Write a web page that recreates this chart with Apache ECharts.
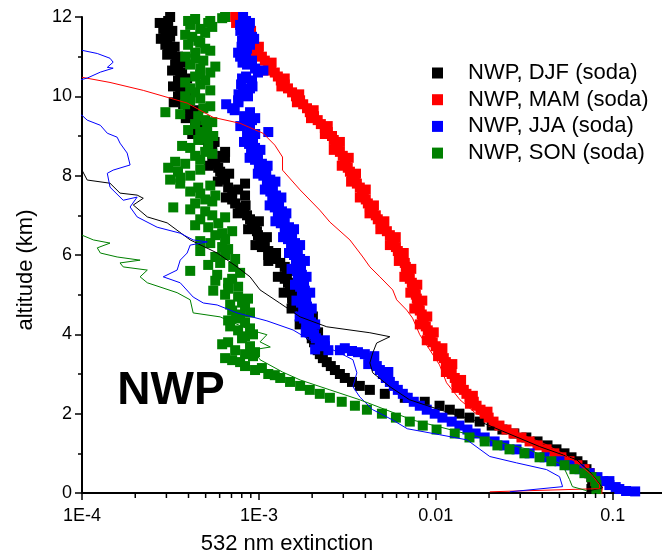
<!DOCTYPE html>
<html><head><meta charset="utf-8">
<script src="https://cdn.jsdelivr.net/npm/echarts@6/dist/echarts.min.js"></script>
<style>html,body{margin:0;padding:0;background:#fff}#c{width:662px;height:556px}</style>
</head><body><div id="c"></div>
<script>
// ---------- DATA ----------
const seriesNames = ['NWP, DJF (soda)', 'NWP, MAM (soda)', 'NWP, JJA (soda)', 'NWP, SON (soda)'];
const xTickLabels = {'-4': '1E-4', '-3': '1E-3', '-2': '0.01', '-1': '0.1'};
const xMinorTicks = [2e-4,3e-4,4e-4,5e-4,6e-4,7e-4,8e-4,9e-4,2e-3,3e-3,4e-3,5e-3,6e-3,7e-3,8e-3,9e-3,2e-2,3e-2,4e-2,5e-2,6e-2,7e-2,8e-2,9e-2];

// altitude (km) of the scatter profiles
const altitude = [0.1,0.2,0.3,0.4,0.5,0.6,0.7,0.8,0.9,1.0,1.1,1.2,1.3,1.4,1.5,1.6,1.7,1.8,1.9,2.0,
2.1,2.2,2.3,2.4,2.5,2.6,2.7,2.8,2.9,3.0,3.1,3.2,3.3,3.4,3.5,3.6,3.7,3.8,3.9,4.0,
4.1,4.2,4.3,4.4,4.5,4.6,4.7,4.8,4.9,5.0,5.1,5.2,5.3,5.4,5.5,5.6,5.7,5.8,5.9,6.0,
6.1,6.2,6.3,6.4,6.5,6.6,6.7,6.8,6.9,7.0,7.1,7.2,7.3,7.4,7.5,7.6,7.7,7.8,7.9,8.0,
8.1,8.2,8.3,8.4,8.5,8.6,8.7,8.8,8.9,9.0,9.1,9.2,9.3,9.4,9.5,9.6,9.7,9.8,9.9,10.0,
10.1,10.2,10.3,10.4,10.5,10.6,10.7,10.8,10.9,11.0,11.1,11.2,11.3,11.4,11.5,11.6,11.7,11.8,11.9,12.0];

const djfExt = [7.58e-2,7.68e-2,7.68e-2,7.58e-2,7.39e-2,7.11e-2,6.75e-2,6.32e-2,5.85e-2,5.34e-2,
4.81e-2,4.28e-2,3.76e-2,3.25e-2,2.78e-2,2.38e-2,2.07e-2,1.77e-2,1.55e-2,1.36e-2,
1.20e-2,1.05e-2,8.66e-3,6.68e-3,5.15e-3,4.24e-3,3.72e-3,3.36e-3,3.06e-3,2.87e-3,
2.69e-3,2.55e-3,2.42e-3,2.30e-3,2.21e-3,2.15e-3,2.10e-3,2.05e-3,1.99e-3,1.97e-3,
1.94e-3,1.89e-3,1.87e-3,1.85e-3,1.80e-3,1.75e-3,1.66e-3,1.56e-3,1.54e-3,1.54e-3,
1.52e-3,1.50e-3,1.46e-3,1.40e-3,1.44e-3,1.50e-3,1.40e-3,1.32e-3,1.19e-3,1.13e-3,
1.13e-3,1.04e-3,1.08e-3,1.02e-3,9.88e-4,9.75e-4,9.51e-4,9.14e-4,8.91e-4,8.57e-4,
8.25e-4,7.83e-4,7.34e-4,7.06e-4,8.35e-4,7.06e-4,6.70e-4,8.35e-4,6.44e-4,6.20e-4,
6.04e-4,5.89e-4,5.67e-4,5.45e-4,6.20e-4,6.44e-4,5.45e-4,5.17e-4,4.97e-4,4.78e-4,
4.54e-4,4.54e-4,4.36e-4,4.36e-4,4.20e-4,4.09e-4,3.98e-4,3.73e-4,3.59e-4,3.49e-4,
3.59e-4,3.68e-4,3.59e-4,3.49e-4,3.59e-4,3.68e-4,3.49e-4,3.36e-4,3.41e-4,3.49e-4,
3.23e-4,3.07e-4,2.96e-4,3.03e-4,3.15e-4,2.96e-4,2.88e-4,3.03e-4,3.07e-4,3.15e-4];
const djfSpreadAlt = [4.05,4.25,4.45,4.65,4.85,5.05,5.25,5.45,5.65,5.85,6.05,6.25,6.45,6.65,6.85,7.05,7.25,7.45,7.65,7.85,
8.05,8.25,8.45,8.65,8.85,9.05,9.25,9.45,9.65,9.85,10.05,10.25,10.45,10.65,10.85,11.05,11.25,11.45,11.65,11.85];
const djfSpreadExt = [2.16e-3,1.70e-3,2.02e-3,1.53e-3,1.72e-3,1.38e-3,1.64e-3,1.28e-3,1.61e-3,1.13e-3,
1.25e-3,9.56e-4,1.11e-3,8.69e-4,1.0e-3,7.59e-4,8.41e-4,6.5e-4,7.63e-4,5.86e-4,
6.79e-4,5.21e-4,6.43e-4,5.32e-4,5.62e-4,4.20e-4,4.94e-4,3.86e-4,4.47e-4,3.30e-4,
3.93e-4,3.27e-4,3.93e-4,3.23e-4,3.75e-4,3.03e-4,3.34e-4,2.79e-4,3.24e-4,2.75e-4];

const mamExt = [8.20e-2,8.20e-2,7.99e-2,7.68e-2,7.39e-2,6.92e-2,6.32e-2,5.70e-2,5.13e-2,4.68e-2,
4.23e-2,3.76e-2,3.39e-2,3.05e-2,2.75e-2,2.51e-2,2.29e-2,2.12e-2,1.99e-2,1.89e-2,
1.79e-2,1.70e-2,1.64e-2,1.55e-2,1.49e-2,1.44e-2,1.36e-2,1.31e-2,1.28e-2,1.23e-2,
1.20e-2,1.17e-2,1.14e-2,1.11e-2,1.08e-2,1.04e-2,9.99e-3,9.61e-3,9.36e-3,9.24e-3,
9.01e-3,8.78e-3,8.55e-3,8.44e-3,8.33e-3,8.12e-3,8.01e-3,7.91e-3,7.81e-3,7.71e-3,
7.61e-3,7.42e-3,7.32e-3,7.13e-3,7.04e-3,6.85e-3,6.77e-3,6.68e-3,6.51e-3,6.26e-3,
6.10e-3,5.95e-3,5.79e-3,5.64e-3,5.50e-3,5.29e-3,5.09e-3,4.89e-3,4.70e-3,4.58e-3,
4.41e-3,4.24e-3,4.13e-3,4.02e-3,3.92e-3,3.82e-3,3.72e-3,3.58e-3,3.49e-3,3.36e-3,
3.27e-3,3.18e-3,3.10e-3,3.06e-3,2.98e-3,2.87e-3,2.79e-3,2.72e-3,2.65e-3,2.59e-3,
2.45e-3,2.36e-3,2.24e-3,2.15e-3,2.05e-3,1.94e-3,1.87e-3,1.78e-3,1.71e-3,1.62e-3,
1.54e-3,1.46e-3,1.40e-3,1.33e-3,1.28e-3,1.23e-3,1.17e-3,1.13e-3,1.08e-3,1.04e-3,
9.88e-4,9.51e-4,9.26e-4,8.91e-4,8.68e-4,8.57e-4,8.35e-4,8.03e-4,7.83e-4,7.34e-4];
const mamSpreadAlt = [2.05,2.25,2.45,2.65,2.85,3.05,3.25,3.45,3.65,3.85,4.05,4.25,4.45,4.65,4.85,5.05,5.25,5.45,5.65,5.85,
6.05,6.25,6.45,6.65,6.85,7.05,7.25,7.45,7.65,7.85,8.05,8.25,8.45,8.65,8.85,9.05,9.25,9.45,9.65,9.85,
10.05,10.25,10.45,10.65,10.85,11.05,11.25,11.45,11.65,11.85];
const mamSpreadExt = [1.96e-2,1.56e-2,1.62e-2,1.31e-2,1.39e-2,1.14e-2,1.24e-2,1.03e-2,1.09e-2,8.89e-3,
9.74e-3,8.12e-3,8.95e-3,7.56e-3,8.39e-3,7.18e-3,7.86e-3,6.64e-3,7.27e-3,6.18e-3,
6.59e-3,5.50e-3,5.94e-3,4.86e-3,5.12e-3,4.22e-3,4.47e-3,3.72e-3,4.02e-3,3.32e-3,
3.54e-3,2.94e-3,3.22e-3,2.65e-3,2.87e-3,2.36e-3,2.45e-3,1.97e-3,2.04e-3,1.64e-3,
1.69e-3,1.34e-3,1.40e-3,1.12e-3,1.18e-3,9.46e-4,1.0e-3,8.25e-4,9.03e-4,7.43e-4];

const jjaExt = [0.109,9.58e-2,8.86e-2,8.20e-2,7.39e-2,6.49e-2,5.70e-2,5.00e-2,4.12e-2,3.39e-2,
2.86e-2,2.44e-2,2.15e-2,1.89e-2,1.68e-2,1.51e-2,1.36e-2,1.23e-2,1.09e-2,9.86e-3,
8.89e-3,8.12e-3,7.51e-3,6.94e-3,6.51e-3,6.10e-3,5.79e-3,5.50e-3,5.22e-3,5.02e-3,
4.83e-3,4.64e-3,4.46e-3,4.24e-3,3.97e-3,2.87e-3,2.36e-3,2.21e-3,2.10e-3,2.05e-3,
1.99e-3,1.85e-3,1.97e-3,1.80e-3,1.92e-3,1.78e-3,1.87e-3,1.73e-3,1.85e-3,1.75e-3,
1.82e-3,1.71e-3,1.80e-3,1.66e-3,1.75e-3,1.64e-3,1.73e-3,1.62e-3,1.71e-3,1.58e-3,
1.66e-3,1.52e-3,1.60e-3,1.46e-3,1.54e-3,1.40e-3,1.48e-3,1.33e-3,1.40e-3,1.28e-3,
1.35e-3,1.23e-3,1.30e-3,1.19e-3,1.25e-3,1.16e-3,1.20e-3,1.11e-3,1.16e-3,1.06e-3,
1.10e-3,1.00e-3,1.04e-3,9.51e-4,9.88e-4,9.03e-4,9.51e-4,8.80e-4,9.26e-4,8.57e-4,
1.13e-3,8.91e-4,8.35e-4,9.14e-4,8.25e-4,8.91e-4,7.06e-4,6.53e-4,7.63e-4,8.68e-4,
8.14e-4,8.91e-4,7.93e-4,9.14e-4,8.46e-4,9.88e-4,9.51e-4,8.57e-4,9.14e-4,7.83e-4,
7.63e-4,8.57e-4,8.91e-4,8.03e-4,9.14e-4,8.35e-4,8.80e-4,7.83e-4,8.46e-4,8.14e-4];
const jjaExtraAlt = [3.55,3.58,3.62,3.65,3.6,0.05,0.04,0.15,0.3];
const jjaExtraExt = [3.63e-3,3.36e-3,2.08e-3,3.06e-3,2.47e-3,0.119,0.134,0.104,9.58e-2];
const jjaSpreadAlt = [3.05,3.25,3.45,3.85,4.05,4.25,4.45,4.65,4.85,5.05,5.25,5.45,5.65,5.85,6.05,6.25,6.45,6.65,6.85,7.05,
7.25,7.45,7.65,7.85,8.05,8.25,8.45,8.65,8.85,9.05,9.25,9.45,9.65,9.85,10.05,10.25,10.45,10.65,10.85,11.05,
11.25,11.45,11.65,11.85];
const jjaSpreadExt = [5.39e-3,4.15e-3,4.49e-3,2.36e-3,1.84e-3,2.08e-3,1.70e-3,1.99e-3,1.63e-3,1.95e-3,
1.60e-3,1.86e-3,1.53e-3,1.82e-3,1.48e-3,1.71e-3,1.37e-3,1.58e-3,1.24e-3,1.43e-3,
1.15e-3,1.34e-3,1.08e-3,1.24e-3,9.86e-4,1.12e-3,8.86e-4,1.02e-3,8.24e-4,9.53e-4,
7.85e-4,9.53e-4,7.30e-4,7.67e-4,7.67e-4,9.20e-4,8.03e-4,1.06e-3,8.08e-4,8.46e-4,
7.98e-4,9.40e-4,7.85e-4,8.90e-4];

const sonExt = [8.09e-2,8.09e-2,7.99e-2,7.58e-2,6.92e-2,6.08e-2,5.34e-2,4.50e-2,3.86e-2,3.17e-2,
2.61e-2,2.23e-2,1.89e-2,1.55e-2,1.28e-2,1.01e-2,8.44e-3,7.13e-3,5.95e-3,4.96e-3,
4.08e-3,3.49e-3,2.94e-3,2.52e-3,2.21e-3,1.94e-3,1.71e-3,1.50e-3,1.32e-3,1.13e-3,
9.51e-4,8.35e-4,7.83e-4,6.44e-4,8.35e-4,7.34e-4,8.91e-4,6.70e-4,8.03e-4,9.26e-4,
7.63e-4,6.88e-4,8.35e-4,7.44e-4,7.83e-4,7.06e-4,8.35e-4,8.03e-4,8.68e-4,6.44e-4,
5.52e-4,7.63e-4,6.70e-4,7.06e-4,5.81e-4,4.09e-4,7.16e-4,6.04e-4,7.34e-4,6.44e-4,
4.66e-4,6.20e-4,5.31e-4,6.44e-4,5.67e-4,7.06e-4,5.17e-4,5.89e-4,4.66e-4,5.45e-4,
4.97e-4,3.28e-4,4.36e-4,4.97e-4,5.67e-4,4.09e-4,4.54e-4,3.59e-4,3.15e-4,4.09e-4,
3.49e-4,3.07e-4,3.83e-4,4.66e-4,4.36e-4,4.97e-4,4.09e-4,5.17e-4,4.54e-4,5.52e-4,
4.66e-4,5.10e-4,4.36e-4,4.97e-4,4.54e-4,2.96e-4,4.85e-4,3.83e-4,4.09e-4,3.83e-4,
4.36e-4,4.09e-4,4.66e-4,4.97e-4,4.36e-4,5.31e-4,4.66e-4,4.09e-4,4.85e-4,3.83e-4,
4.36e-4,4.97e-4,3.98e-4,4.54e-4,4.20e-4,4.97e-4,4.66e-4,4.09e-4,5.31e-4,6.44e-4];
const sonExtraAlt = [11.97,11.9,11.85,3.45,2.97];
const sonExtraExt = [6.20e-4,3.98e-4,5.17e-4,9.26e-4,1.23e-3];
const sonSpreadAlt = [3.15,3.35,3.55,3.75,3.95,4.15,4.35,4.55,4.75,4.95,5.15,5.35,5.55,5.75,5.95,6.15,6.35,6.55,6.75,6.95,
7.15,7.35,7.55,7.75,7.95,8.15,8.35,8.55,8.75,8.95,9.15,9.35,9.55,9.75,9.95,10.15,10.35,10.55,10.75,10.95,
11.15,11.35,11.55,11.75,11.95];
const sonSpreadExt = [1.04e-3,7.06e-4,9.51e-4,6.20e-4,8.35e-4,8.91e-4,6.70e-4,8.91e-4,6.88e-4,7.63e-4,
6.70e-4,5.67e-4,7.83e-4,5.17e-4,5.67e-4,6.70e-4,4.66e-4,6.20e-4,4.36e-4,6.44e-4,
4.09e-4,5.45e-4,4.66e-4,5.31e-4,3.59e-4,4.66e-4,3.36e-4,5.45e-4,3.68e-4,4.97e-4,
3.98e-4,5.45e-4,3.59e-4,5.31e-4,4.66e-4,5.31e-4,3.83e-4,4.66e-4,5.67e-4,4.36e-4,
5.31e-4,4.66e-4,3.83e-4,5.45e-4,4.36e-4];

// thin line profiles
const djfLineAlt = [8.14,7.89,7.81,7.56,7.51,7.43,7.26,6.96,6.81,6.38,6.05,5.7,5.45,5.12,4.79,4.44,4.19,4.04,3.94,3.78,3.53,3.28,3.03,2.68,2.35,2.10,1.77,1.17,0.84,0.54,0.13,0.06];
const djfLineExt = [1.0e-4,1.07e-4,1.44e-4,1.64e-4,2.05e-4,2.22e-4,1.95e-4,2.34e-4,3.03e-4,4.09e-4,5.81e-4,7.53e-4,8.91e-4,1.015e-3,1.31e-3,1.71e-3,2.42e-3,4.24e-3,5.5e-3,4.63e-3,4.4e-3,4.24e-3,4.4e-3,5.5e-3,7.11e-3,1.05e-2,1.84e-2,3.86e-2,6.25e-2,7.4e-2,8.77e-2,7.39e-2];
const mamLineAlt = [10.48,10.35,10.15,9.83,9.47,9.32,9.07,8.77,8.47,8.14,7.64,7.13,6.83,6.38,5.95,5.7,5.45,5.12,4.87,4.61,4.41,3.99,3.61,3.23,2.78,2.35,2.02,1.72,1.49,1.24,0.97,0.71,0.46,0.21,0.11,0.03];
const mamLineExt = [1.0e-4,1.44e-4,2.22e-4,3.93e-4,5.51e-4,7.83e-4,1.055e-3,1.23e-3,1.36e-3,1.36e-3,1.71e-3,2.21e-3,2.52e-3,3.27e-3,3.87e-3,4.24e-3,4.83e-3,5.71e-3,6.01e-3,6.85e-3,7.39e-3,8.12e-3,9.24e-3,1.05e-2,1.15e-2,1.37e-2,1.67e-2,2.30e-2,2.98e-2,4.12e-2,5.35e-2,6.5e-2,7.6e-2,8.42e-2,8.42e-2,2.02e-2];
const jjaLineAlt = [11.16,11.08,10.96,10.86,10.73,10.71,10.61,10.46,10.35,9.6,9.52,9.4,9.27,9.07,8.97,8.82,8.57,8.27,8.14,8.06,7.71,7.38,7.46,7.21,6.96,6.7,6.55,6.38,6.33,6.25,6.05,5.87,5.62,5.45,5.3,4.94,4.79,4.74,4.54,4.34,4.11,3.86,3.53,3.36,3.03,2.68,2.42,2.1,1.84,1.62,1.47,1.34,0.92,0.76,0.59,0.41,0.16,0.03];
const jjaLineExt = [1.0e-4,1.22e-4,1.44e-4,1.50e-4,1.39e-4,1.50e-4,1.27e-4,1.07e-4,8.6e-5,8.6e-5,1.0e-4,1.07e-4,1.27e-4,1.39e-4,1.58e-4,1.64e-4,1.80e-4,1.87e-4,1.50e-4,1.39e-4,1.44e-4,1.71e-4,2.05e-4,1.87e-4,2.05e-4,2.66e-4,3.59e-4,4.25e-4,5.11e-4,4.09e-4,3.93e-4,3.59e-4,3.45e-4,2.88e-4,3.59e-4,4.25e-4,4.85e-4,5.81e-4,7.53e-4,1.11e-3,1.56e-3,1.94e-3,2.87e-3,3.40e-3,3.58e-3,3.40e-3,3.72e-3,4.40e-3,5.71e-3,6.9e-3,1.05e-2,1.50e-2,2.02e-2,2.86e-2,4.23e-2,5.01e-2,5.21e-2,2.62e-2];
const sonLineAlt = [6.5,6.38,6.3,6.18,6.05,5.95,5.87,5.8,5.7,5.62,5.45,5.3,5.05,4.87,4.54,4.44,4.11,3.99,3.81,3.68,3.61,3.36,3.05,2.85,2.6,2.35,1.84,1.47,1.09,0.71,0.34,0.16,0.06];
const sonLineExt = [1.0e-4,1.16e-4,1.44e-4,1.22e-4,1.27e-4,1.58e-4,2.13e-4,1.64e-4,1.71e-4,2.34e-4,2.13e-4,2.34e-4,3.45e-4,4.09e-4,4.25e-4,6.04e-4,8.91e-4,1.11e-3,1.015e-3,1.16e-3,9.27e-4,1.015e-3,1.36e-3,1.71e-3,2.52e-3,3.72e-3,7.39e-3,1.56e-2,3.39e-2,5.21e-2,5.70e-2,5.92e-2,7.11e-2];

// ---------- CHART ----------
const colors = ['#000000', '#ff0000', '#0000ff', '#008000'];
const FONT = "'Liberation Sans', Arial, sans-serif";
function pairs(xs, ys) { return xs.map((v, i) => [v, ys[i]]); }

const scatterData = [
  pairs(djfExt, altitude).concat(pairs(djfSpreadExt, djfSpreadAlt)),
  pairs(mamExt, altitude).concat(pairs(mamSpreadExt, mamSpreadAlt)),
  pairs(jjaExt, altitude).concat(pairs(jjaExtraExt, jjaExtraAlt), pairs(jjaSpreadExt, jjaSpreadAlt)),
  pairs(sonExt, altitude).concat(pairs(sonExtraExt, sonExtraAlt), pairs(sonSpreadExt, sonSpreadAlt))
];
const lineData = [
  pairs(djfLineExt, djfLineAlt),
  pairs(mamLineExt, mamLineAlt),
  pairs(jjaLineExt, jjaLineAlt),
  pairs(sonLineExt, sonLineAlt)
];

const series = [];
seriesNames.forEach((n, i) => {
  series.push({
    name: n, type: 'scatter', symbol: 'rect', symbolSize: 10,
    itemStyle: { color: colors[i], opacity: 1 },
    data: scatterData[i], z: 2 + i, animation: false
  });
});
seriesNames.forEach((n, i) => {
  series.push({
    name: n + ' line', type: 'line', showSymbol: false, symbol: 'none',
    lineStyle: { color: colors[i], width: 1 }, clip: true,
    data: lineData[i], z: 10, animation: false
  });
});
series.push({
  name: 'minor ticks', type: 'custom', coordinateSystem: 'cartesian2d',
  clip: false, silent: true, z: 20,
  data: xMinorTicks.map(v => [v, 0]),
  renderItem: function (params, api) {
    const p = api.coord([api.value(0), api.value(1)]);
    return { type: 'line', shape: { x1: p[0], y1: p[1], x2: p[0], y2: p[1] + 5 },
      style: { stroke: '#000', lineWidth: 1.5 } };
  },
  animation: false
});

const chart = echarts.init(document.getElementById('c'));
chart.setOption({
  backgroundColor: '#ffffff',
  animation: false,
  grid: { left: 82, right: 0, top: 17, bottom: 63, containLabel: false, outerBoundsMode: 'none' },
  xAxis: {
    type: 'log', logBase: 10, min: 1e-4, max: 0.19,
    axisLine: { onZero: false, lineStyle: { color: '#000', width: 2 } },
    axisTick: { show: true, length: 7, inside: false, lineStyle: { color: '#000', width: 1.5 } },
    axisLabel: {
      color: '#000', fontSize: 18, fontFamily: FONT, margin: 14, showMaxLabel: false,
      formatter: function (v) {
        const l = Math.log10(v), e = Math.round(l);
        if (Math.abs(l - e) > 0.01) return '';
        return xTickLabels[String(e)] || '';
      }
    },
    splitLine: { show: false }
  },
  yAxis: {
    type: 'value', min: 0, max: 12, interval: 2,
    axisLine: { onZero: false, lineStyle: { color: '#000', width: 2 } },
    axisTick: { show: true, length: 7, inside: false, lineStyle: { color: '#000', width: 1.5 } },
    minorTick: { show: true, splitNumber: 2, length: 4, lineStyle: { color: '#000', width: 1.5 } },
    axisLabel: { color: '#000', fontSize: 18, fontFamily: FONT, margin: 10 },
    splitLine: { show: false }
  },
  legend: {
    data: seriesNames, left: 432, top: 62, orient: 'vertical', padding: 0,
    icon: 'rect', itemWidth: 11, itemHeight: 11, itemGap: 4.7,
    formatter: function (name) { return '{g|}' + name; },
    textStyle: { color: '#000', fontSize: 22, fontFamily: FONT, lineHeight: 22,
      rich: { g: { width: 20 } } },
    selectedMode: false
  },
  graphic: [
    { type: 'text', x: 26, y: 270, rotation: Math.PI / 2,
      style: { text: 'altitude (km)', font: '22px ' + FONT, fill: '#000', textAlign: 'center', textVerticalAlign: 'middle' } },
    { type: 'text', x: 287, y: 544,
      style: { text: '532 nm extinction', font: '22px ' + FONT, fill: '#000', textAlign: 'center', textVerticalAlign: 'middle' } },
    { type: 'text', x: 171, y: 391,
      style: { text: 'NWP', font: 'bold 46px ' + FONT, fill: '#000', textAlign: 'center', textVerticalAlign: 'middle' } }
  ],
  series: series
});
</script>
</body></html>
